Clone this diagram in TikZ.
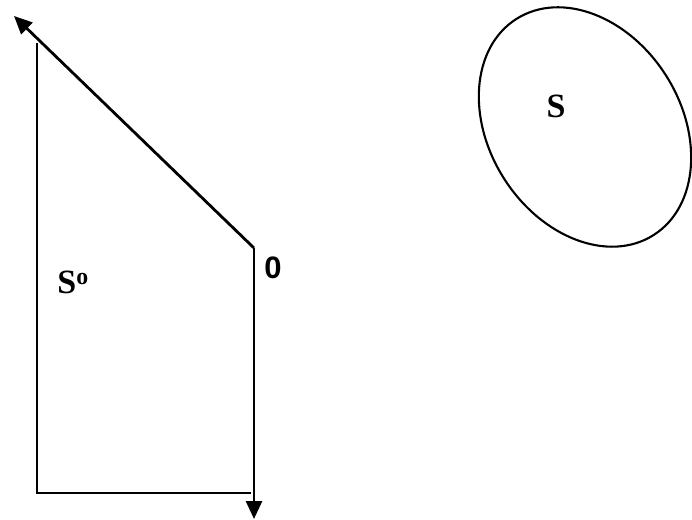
\documentclass[tikz,border=0pt]{standalone}
\usepackage{fontspec}
\setmainfont{Liberation Serif}
\setsansfont{Liberation Sans}
\usetikzlibrary{arrows.meta}
\tikzset{
  >={Triangle[length=18pt,width=16pt]},
  ray/.style={->,line width=2.8pt,draw=black},
  rim/.style={line width=2.1pt,draw=black},
  setname/.style={font=\fontsize{34}{34}\selectfont\bfseries,inner sep=0pt},
  originname/.style={font=\sffamily\fontsize{31}{31}\selectfont\bfseries,inner sep=0pt}
}

\begin{document}
\begin{tikzpicture}[x=1pt,y=1pt,line cap=butt,line join=miter]
  \useasboundingbox (0,0) rectangle (692,519);

  % Polar cone
  \coordinate (o) at (254,271);
  \coordinate (uptip) at (14,503);
  \coordinate (downtip) at (254,0);
  \coordinate (lt) at (37,476);
  \coordinate (lb) at (37,26);
  \coordinate (rb) at (251,26);
  \draw[rim] (lt)--(lb)--(rb);
  \draw[ray] (o)--(uptip);
  \draw[ray] (o)--(downtip);
  \node[originname] (zero) at (273,251) {0};
  \node[setname] (polar) at (73,237) {S\textsuperscript{o}};

  % The set
  \coordinate (c) at (585,392);
  \draw[rim,rotate around={-57.6:(c)}] (c) ellipse [x radius=128,y radius=96];
  \node[setname] (set) at (556,413) {S};
\end{tikzpicture}
\end{document}
